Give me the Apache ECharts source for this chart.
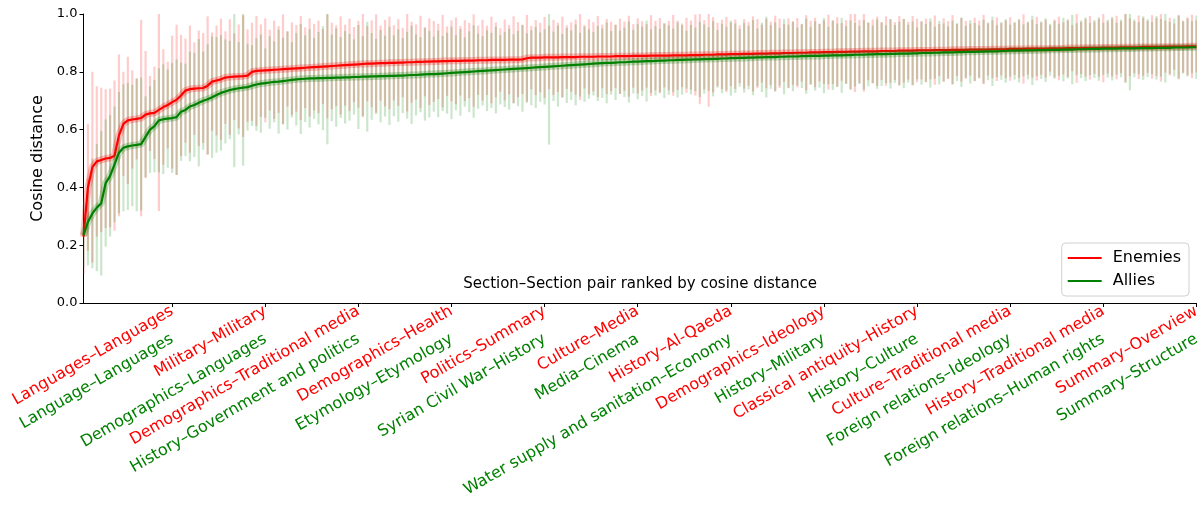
<!DOCTYPE html>
<html><head><meta charset="utf-8">
<script src="https://cdn.jsdelivr.net/npm/echarts@6/dist/echarts.min.js"></script>
<style>html,body{margin:0;padding:0;background:#fff}#c{width:1203px;height:508px}</style>
</head><body><div id="c"></div>
<script>
var enemyTickLabels = ['Languages–Languages','Military–Military','Demographics–Traditional media','Demographics–Health','Politics–Summary','Culture–Media','History–Al-Qaeda','Demographics–Ideology','Classical antiquity–History','Culture–Traditional media','History–Traditional media','Summary–Overview'];
var allyTickLabels = ['Language–Languages','Demographics–Languages','History–Government and politics','Etymology–Etymology','Syrian Civil War–History','Media–Cinema','Water supply and sanitation–Economy','History–Military','History–Culture','Foreign relations–Ideology','Foreign relations–Human rights','Summary–Structure'];
var tickPositions = [21,42,63,84,105,126,147,168,189,210,231,252];

var enemiesMean = [
0.230,0.400,0.470,0.490,0.495,0.500,0.502,0.510,0.580,0.620,
0.632,0.635,0.637,0.640,0.652,0.656,0.658,0.668,0.678,0.685,
0.695,0.703,0.718,0.735,0.740,0.742,0.743,0.744,0.752,0.766,
0.770,0.774,0.780,0.782,0.783,0.784,0.785,0.787,0.800,0.803,
0.804,0.805,0.806,0.807,0.808,0.809,0.810,0.811,0.812,0.813,
0.814,0.815,0.816,0.817,0.818,0.819,0.820,0.821,0.822,0.823,
0.824,0.825,0.826,0.827,0.828,0.828,0.829,0.830,0.830,0.831,
0.831,0.832,0.832,0.833,0.833,0.834,0.834,0.835,0.835,0.836,
0.836,0.837,0.837,0.838,0.838,0.838,0.839,0.839,0.839,0.840,
0.840,0.840,0.841,0.841,0.841,0.841,0.842,0.842,0.842,0.843,
0.847,0.849,0.849,0.849,0.850,0.850,0.850,0.850,0.851,0.851,
0.851,0.851,0.852,0.852,0.852,0.852,0.853,0.853,0.853,0.853,
0.854,0.854,0.854,0.854,0.855,0.855,0.855,0.855,0.856,0.856,
0.856,0.856,0.856,0.857,0.857,0.857,0.857,0.858,0.858,0.858,
0.859,0.859,0.859,0.860,0.860,0.860,0.861,0.861,0.861,0.862,
0.862,0.862,0.863,0.863,0.863,0.864,0.864,0.864,0.865,0.865,
0.865,0.866,0.866,0.866,0.867,0.867,0.867,0.868,0.868,0.868,
0.869,0.869,0.869,0.870,0.870,0.870,0.871,0.871,0.871,0.871,
0.872,0.872,0.872,0.872,0.873,0.873,0.873,0.873,0.874,0.874,
0.874,0.874,0.875,0.875,0.875,0.875,0.876,0.876,0.876,0.876,
0.877,0.877,0.877,0.877,0.877,0.878,0.878,0.878,0.878,0.879,
0.879,0.879,0.879,0.880,0.880,0.880,0.880,0.880,0.881,0.881,
0.881,0.881,0.882,0.882,0.882,0.882,0.883,0.883,0.883,0.883,
0.884,0.884,0.884,0.884,0.885,0.885,0.885,0.885,0.885,0.886,
0.886,0.886,0.886,0.886,0.887,0.887,0.887,0.887,0.887,0.888,
0.888,0.888];

var alliesMean = [
0.235,0.280,0.310,0.330,0.345,0.415,0.440,0.480,0.520,0.537,
0.542,0.545,0.547,0.550,0.575,0.600,0.612,0.632,0.636,0.638,
0.640,0.643,0.662,0.668,0.680,0.685,0.693,0.700,0.705,0.712,
0.720,0.727,0.732,0.737,0.740,0.743,0.745,0.747,0.752,0.756,
0.759,0.761,0.763,0.765,0.766,0.768,0.770,0.772,0.774,0.775,
0.776,0.777,0.777,0.778,0.778,0.779,0.779,0.780,0.780,0.781,
0.781,0.782,0.782,0.783,0.783,0.784,0.784,0.785,0.785,0.786,
0.786,0.787,0.787,0.788,0.789,0.789,0.790,0.791,0.792,0.792,
0.793,0.794,0.795,0.796,0.797,0.798,0.799,0.800,0.801,0.802,
0.803,0.804,0.805,0.806,0.807,0.808,0.809,0.810,0.811,0.812,
0.813,0.814,0.815,0.816,0.817,0.818,0.819,0.820,0.821,0.822,
0.823,0.824,0.825,0.826,0.827,0.828,0.829,0.830,0.831,0.831,
0.832,0.833,0.833,0.834,0.835,0.835,0.836,0.837,0.837,0.838,
0.839,0.839,0.840,0.840,0.841,0.841,0.842,0.842,0.843,0.843,
0.844,0.844,0.845,0.845,0.846,0.846,0.847,0.847,0.848,0.848,
0.849,0.849,0.850,0.850,0.851,0.851,0.851,0.852,0.852,0.853,
0.853,0.853,0.854,0.854,0.855,0.855,0.855,0.856,0.856,0.857,
0.857,0.857,0.858,0.858,0.859,0.859,0.859,0.860,0.860,0.861,
0.861,0.861,0.862,0.862,0.863,0.863,0.863,0.864,0.864,0.865,
0.865,0.865,0.866,0.866,0.867,0.867,0.867,0.868,0.868,0.869,
0.869,0.869,0.870,0.870,0.871,0.871,0.871,0.872,0.872,0.873,
0.873,0.873,0.874,0.874,0.874,0.875,0.875,0.875,0.876,0.876,
0.876,0.877,0.877,0.877,0.878,0.878,0.878,0.879,0.879,0.879,
0.880,0.880,0.880,0.880,0.881,0.881,0.881,0.881,0.882,0.882,
0.882,0.882,0.883,0.883,0.883,0.883,0.884,0.884,0.884,0.884,
0.885,0.885];

var enemiesErr = [
0.13,0.22,0.33,0.26,0.25,0.24,0.24,0.26,0.28,0.18,
0.22,0.17,0.14,0.34,0.22,0.13,0.16,0.35,0.20,0.15,
0.23,0.26,0.21,0.18,0.22,0.16,0.20,0.19,0.24,0.17,
0.19,0.21,0.16,0.20,0.15,0.18,0.21,0.16,0.17,0.19,
0.16,0.18,0.14,0.17,0.15,0.19,0.13,0.16,0.15,0.18,
0.14,0.17,0.15,0.16,0.13,0.18,0.15,0.14,0.17,0.14,
0.16,0.13,0.15,0.18,0.13,0.15,0.17,0.13,0.15,0.16,
0.13,0.15,0.12,0.17,0.14,0.13,0.16,0.12,0.15,0.14,
0.13,0.16,0.12,0.14,0.15,0.12,0.14,0.13,0.16,0.12,
0.14,0.12,0.15,0.13,0.11,0.14,0.12,0.15,0.13,0.12,
0.15,0.11,0.13,0.12,0.14,0.11,0.13,0.12,0.14,0.11,
0.12,0.13,0.15,0.11,0.13,0.12,0.14,0.11,0.13,0.12,
0.11,0.13,0.12,0.14,0.11,0.13,0.12,0.11,0.14,0.12,
0.13,0.11,0.12,0.14,0.12,0.11,0.13,0.12,0.14,0.17,
0.12,0.18,0.13,0.11,0.12,0.13,0.11,0.12,0.10,0.12,
0.11,0.13,0.12,0.10,0.12,0.11,0.13,0.12,0.10,0.12,
0.11,0.12,0.10,0.13,0.11,0.12,0.10,0.11,0.13,0.11,
0.12,0.10,0.11,0.13,0.14,0.11,0.14,0.10,0.11,0.12,
0.10,0.12,0.11,0.10,0.12,0.11,0.10,0.12,0.11,0.10,
0.11,0.10,0.12,0.09,0.11,0.10,0.12,0.09,0.11,0.10,
0.09,0.11,0.10,0.12,0.09,0.10,0.11,0.09,0.10,0.11,
0.09,0.10,0.12,0.09,0.10,0.11,0.09,0.10,0.08,0.10,
0.11,0.09,0.10,0.08,0.12,0.09,0.10,0.11,0.09,0.10,
0.12,0.09,0.10,0.11,0.09,0.12,0.10,0.09,0.11,0.10,
0.09,0.11,0.10,0.12,0.09,0.10,0.08,0.11,0.09,0.10,
0.11,0.09];

var alliesErr = [
0.11,0.15,0.19,0.22,0.25,0.22,0.21,0.20,0.21,0.22,
0.22,0.21,0.23,0.23,0.14,0.15,0.16,0.18,0.19,0.17,
0.19,0.20,0.17,0.16,0.19,0.18,0.22,0.17,0.19,0.21,
0.20,0.20,0.18,0.17,0.27,0.16,0.27,0.15,0.14,0.16,
0.17,0.12,0.16,0.14,0.18,0.15,0.17,0.13,0.16,0.19,
0.15,0.17,0.14,0.16,0.18,0.23,0.15,0.17,0.14,0.16,
0.15,0.13,0.18,0.14,0.19,0.15,0.13,0.16,0.14,0.17,
0.14,0.16,0.13,0.15,0.17,0.14,0.13,0.16,0.15,0.13,
0.15,0.13,0.14,0.16,0.13,0.15,0.12,0.14,0.16,0.13,
0.12,0.14,0.13,0.15,0.12,0.13,0.14,0.12,0.13,0.15,
0.12,0.13,0.14,0.12,0.13,0.27,0.12,0.14,0.11,0.13,
0.12,0.14,0.11,0.13,0.12,0.11,0.13,0.12,0.14,0.11,
0.13,0.11,0.12,0.14,0.11,0.13,0.12,0.14,0.11,0.12,
0.11,0.13,0.12,0.11,0.13,0.12,0.10,0.12,0.11,0.13,
0.12,0.11,0.13,0.10,0.12,0.11,0.13,0.12,0.10,0.12,
0.11,0.13,0.10,0.12,0.14,0.11,0.12,0.10,0.13,0.11,
0.12,0.10,0.11,0.13,0.10,0.12,0.11,0.13,0.10,0.12,
0.11,0.13,0.10,0.12,0.11,0.10,0.12,0.11,0.10,0.12,
0.11,0.10,0.12,0.10,0.11,0.12,0.10,0.11,0.09,0.11,
0.10,0.12,0.09,0.11,0.10,0.09,0.11,0.10,0.12,0.09,
0.11,0.10,0.09,0.11,0.10,0.12,0.09,0.10,0.11,0.09,
0.10,0.11,0.09,0.10,0.12,0.09,0.10,0.11,0.09,0.10,
0.09,0.11,0.10,0.12,0.09,0.10,0.11,0.09,0.10,0.11,
0.09,0.10,0.11,0.09,0.10,0.12,0.145,0.10,0.09,0.11,
0.10,0.09,0.11,0.10,0.12,0.09,0.10,0.11,0.09,0.10,
0.09,0.11];

var FONT = 'DejaVu Sans';
function pairs(mean){ return mean.map(function(v,i){ return [i+1, v]; }); }
function triples(mean, err){ return mean.map(function(v,i){ return [i+1, v, err[i]]; }); }
function barRenderer(fill){
  return function(params, api){
    var x = api.value(0), m = api.value(1), e = api.value(2);
    var top = api.coord([x, m + e]);
    var bot = api.coord([x, m - e]);
    return {type:'rect', shape:{x: top[0]-1.1, y: top[1], width: 2.2, height: bot[1]-top[1]},
            style:{fill: fill}};
  };
}
function tickLabel(list){
  return function(v){ var k = Math.round(v/21) - 1; return (k>=0 && k<list.length) ? list[k] : ''; };
}

var chart = echarts.init(document.getElementById('c'), null, {renderer:'canvas'});
chart.setOption({
  animation:false,
  backgroundColor:'#fff',
  textStyle:{fontFamily:FONT},
  grid:{left:83.5, right:5.7, top:14, bottom:205, containLabel:false},
  xAxis:[{
    type:'value', min:1, max:252,
    axisLine:{show:true, lineStyle:{color:'#000', width:1}},
    axisTick:{show:true, length:4, lineStyle:{color:'#000'}, customValues:tickPositions},
    axisLabel:{show:true, customValues:tickPositions, rotate:30, fontSize:16, color:'#ff0000',
      fontFamily:FONT, margin:7, formatter:tickLabel(enemyTickLabels)},
    splitLine:{show:false}
  },{
    type:'value', min:1, max:252, position:'bottom', offset:28,
    axisLine:{show:false}, axisTick:{show:false},
    axisLabel:{show:true, customValues:tickPositions, rotate:30, fontSize:16, color:'#008000',
      fontFamily:FONT, margin:7, formatter:tickLabel(allyTickLabels)},
    splitLine:{show:false}
  }],
  yAxis:{
    type:'value', min:0, max:1, interval:0.2,
    name:'Cosine distance', nameLocation:'middle', nameGap:36,
    nameTextStyle:{fontSize:16, color:'#000', fontFamily:FONT},
    axisLine:{show:true, lineStyle:{color:'#000', width:1}},
    axisTick:{show:true, length:4, lineStyle:{color:'#000'}},
    axisLabel:{fontSize:13, color:'#000', margin:6, fontFamily:FONT,
      formatter:function(v){ return v.toFixed(1); }},
    splitLine:{show:false}
  },
  legend:{
    orient:'vertical', right:14, top:243,
    data:[{name:'Enemies', icon:'rect'},{name:'Allies', icon:'rect'}],
    itemWidth:34, itemHeight:2, itemGap:7,
    padding:[7,8,7,6],
    borderColor:'#d0d0d0', borderWidth:1, borderRadius:4, backgroundColor:'rgba(255,255,255,0.8)',
    textStyle:{fontSize:16, color:'#000', fontFamily:FONT, lineHeight:16, padding:[0,0,0,6]}
  },
  graphic:[{
    type:'text', x:640, y:284,
    style:{text:'Section–Section pair ranked by cosine distance', font:'15px "DejaVu Sans"',
      fill:'#000', textAlign:'center', textVerticalAlign:'middle'}
  }],
  series:[
    {type:'custom', name:'enemiesBars', xAxisIndex:0, clip:true, silent:true,
     renderItem:barRenderer('rgba(255,0,0,0.2)'), encode:{x:0,y:[1]}, data:triples(enemiesMean, enemiesErr), z:1},
    {type:'custom', name:'alliesBars', xAxisIndex:0, clip:true, silent:true,
     renderItem:barRenderer('rgba(0,128,0,0.2)'), encode:{x:0,y:[1]}, data:triples(alliesMean, alliesErr), z:1},
    {type:'line', name:'enemiesHalo', xAxisIndex:0, data:pairs(enemiesMean), showSymbol:false, silent:true,
     lineStyle:{color:'#ff0000', width:7, opacity:0.25}, z:2},
    {type:'line', name:'Enemies', xAxisIndex:0, data:pairs(enemiesMean), showSymbol:false, color:'#ff0000',
     lineStyle:{color:'#ff0000', width:2.2}, z:3},
    {type:'line', name:'alliesHalo', xAxisIndex:0, data:pairs(alliesMean), showSymbol:false, silent:true,
     lineStyle:{color:'#008000', width:7, opacity:0.25}, z:4},
    {type:'line', name:'Allies', xAxisIndex:0, data:pairs(alliesMean), showSymbol:false, color:'#008000',
     lineStyle:{color:'#008000', width:2.2}, z:5}
  ]
});
</script></body></html>
